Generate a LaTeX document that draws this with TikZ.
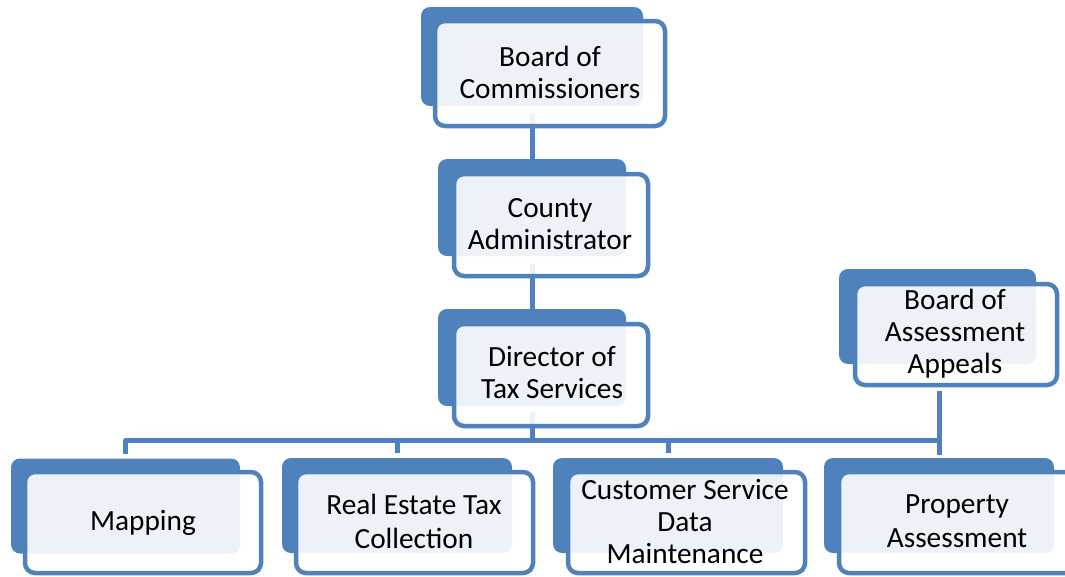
\documentclass[tikz,border=0pt]{standalone}
\usepackage{fontspec}
\setmainfont{Carlito}
\definecolor{accent}{RGB}{79,129,189}
\begin{document}
\begin{tikzpicture}[x=1pt,y=-1pt,
  back/.style={fill=accent, rounded corners=9pt, inner sep=0pt, outer sep=0pt},
  front/.style={draw=accent, line width=4.5pt, fill=white, fill opacity=0.9, rounded corners=10pt, inner sep=0pt, outer sep=0pt},
  conn/.style={draw=accent, line width=5pt, line join=round},
  lbl/.style={font=\fontsize{29.3}{32}\selectfont, align=center, anchor=base, inner sep=0pt, text=black},
  lblb/.style={lbl, font=\fontsize{29.3}{34}\selectfont}]
\useasboundingbox (0,0) rectangle (1065,576);
\clip (0,0) rectangle (1065,576);
% back panels
\node[back, minimum width=222pt, minimum height=99pt] (bocB) at (532,56.5) {};
\node[back, minimum width=188pt, minimum height=97pt] (caB) at (532,207.5) {};
\node[back, minimum width=188pt, minimum height=97pt] (dirB) at (532,357.5) {};
\node[back, minimum width=197pt, minimum height=95pt] (baaB) at (937.5,316.5) {};
\node[back, minimum width=229pt, minimum height=95pt] (mapB) at (125.5,506) {};
\node[back, minimum width=230pt, minimum height=95pt] (retB) at (397,505.5) {};
\node[back, minimum width=230pt, minimum height=95pt] (csdB) at (668,505.5) {};
\node[back, minimum width=230pt, minimum height=95pt] (paB) at (939,505.5) {};
% front frames (positions)
\path (550,73.5) coordinate (bocC) (551,225) coordinate (caC) (551,375) coordinate (dirC)
      (956,334.5) coordinate (baaC) (143,522.5) coordinate (mapC) (414.5,522.5) coordinate (retC)
      (686.5,522.5) coordinate (csdC) (957.5,522.5) coordinate (paC);
\path ([yshift=-52.5pt]bocC) coordinate (bocS) ([yshift=-51pt]caC) coordinate (caS)
      ([yshift=-51pt]dirC) coordinate (dirS) ([yshift=-50.5pt]baaC) coordinate (baaS);
\path ([yshift=13pt]bocS) coordinate (bocL) ([yshift=12pt]caS) coordinate (caL)
      ([yshift=14pt]dirS) coordinate (dirL) ([yshift=-6pt]baaS) coordinate (baaL);
\coordinate (busE) at (940,440.5);
% connectors
\draw[conn] (bocL -| bocB.south) -- (caB.north);
\draw[conn] (caL -| caB.south) -- (dirB.north);
\draw[conn] (dirL -| dirB.south) -- (dirB.south |- busE);
\draw[conn] ([yshift=5pt]mapB.north) |- (busE);
\draw[conn] ([yshift=5pt]retB.north) -- (retB.north |- busE);
\draw[conn] ([yshift=5pt]csdB.north) -- (csdB.north |- busE);
\draw[conn] ([yshift=3pt]paB.north) -- (baaL -| paB.north);
% front frames
\node[front, minimum width=230pt, minimum height=105pt] (bocF) at (bocC) {};
\node[front, minimum width=194pt, minimum height=102pt] (caF) at (caC) {};
\node[front, minimum width=194pt, minimum height=102pt] (dirF) at (dirC) {};
\node[front, minimum width=202pt, minimum height=101pt] (baaF) at (baaC) {};
\node[front, minimum width=236pt, minimum height=101pt] (mapF) at (mapC) {};
\node[front, minimum width=237pt, minimum height=101pt] (retF) at (retC) {};
\node[front, minimum width=237pt, minimum height=101pt] (csdF) at (csdC) {};
\node[front, minimum width=237pt, minimum height=101pt] (paF) at (paC) {};
% labels (anchored at the baseline of the last line)
\node[lbl] (bocT) at (550,98) {Board of\\Commissioners};
\node[lbl] (caT) at (550,249) {County\\Administrator};
\node[lbl] (dirT) at (552,398) {Director of\\Tax Services};
\node[lbl] (baaT) at (955,373) {Board of\\Assessment\\Appeals};
\node[lbl] (mapT) at (143,530) {Mapping};
\node[lblb] (retT) at (414,548) {Real Estate Tax\\Collection};
\node[lbl] (csdT) at (685,563) {Customer Service\\Data\\Maintenance};
\node[lblb] (paT) at (957,547) {Property\\Assessment};
\end{tikzpicture}
\end{document}
